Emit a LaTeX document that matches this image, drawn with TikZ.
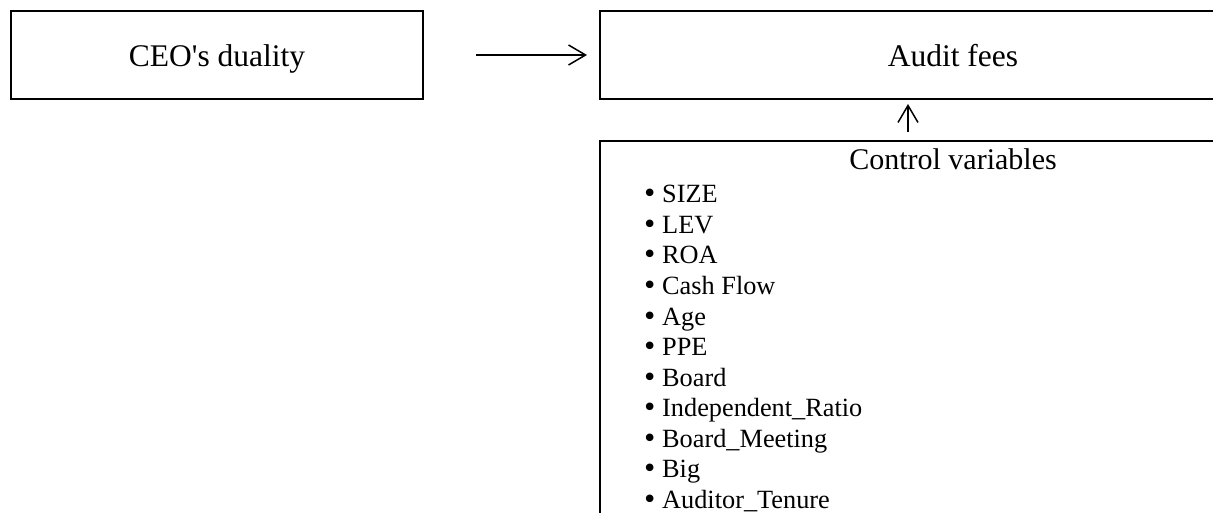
\documentclass[tikz,border=0pt]{standalone}
\usepackage{fontspec}
\setmainfont{Liberation Serif}
\newfontfamily\dotfont{DejaVu Sans}
\usetikzlibrary{positioning, arrows.meta}
\newcommand{\bigdot}{\makebox[20pt][l]{\dotfont\fontsize{26}{30}\selectfont\textbullet}}
\tikzset{
x=1pt, y=-1pt, % one unit is one pixel, counted downwards
>={Straight Barb[length=17pt, width=20pt]}, % open arrow heads
box/.style={draw, line width=2pt, inner sep=0pt}, % frames round the text
bigtext/.style={font=\fontsize{31.5}{36}\selectfont, text height=23pt, text depth=0pt}, % box titles
item/.style={anchor=base west, inner sep=0pt, font=\fontsize{26.3}{30}\selectfont}, % bulleted list
link/.style={->, line width=1.5pt}, % connectors
}

\begin{document}
\begin{tikzpicture}
    \useasboundingbox (0,0) rectangle (1213,513);
    \clip (0,0) rectangle (1213,513);
    \node[box, bigtext, minimum width=412pt, minimum height=88pt] (ceo) at (217,55) {CEO\textquotesingle s duality};
    \node[box, bigtext, minimum width=706pt, minimum height=88pt] (audit) at (953,55) {Audit fees};
    \node[box, minimum width=706pt, minimum height=400pt] (controls) at (953,341) {};
    \node[anchor=base, inner sep=0pt, font=\fontsize{30}{36}\selectfont] (ctitle) at (953,170) {Control variables};
    \foreach \name [count=\i] in {SIZE, LEV, ROA, Cash Flow, Age, PPE, Board,
        Independent\_Ratio, Board\_Meeting, Big, Auditor\_Tenure}
      \node[item] (var\i) at (642,172.5+30.5*\i) {\bigdot\name};
    \coordinate (riser) at (908,0);
    \draw[link, shorten <=52pt, shorten >=12pt] (ceo) -- (audit);
    \draw[link, shorten <=8pt, shorten >=4pt] (controls.north -| riser) -- (audit.south -| riser);
  \end{tikzpicture}
\end{document}
